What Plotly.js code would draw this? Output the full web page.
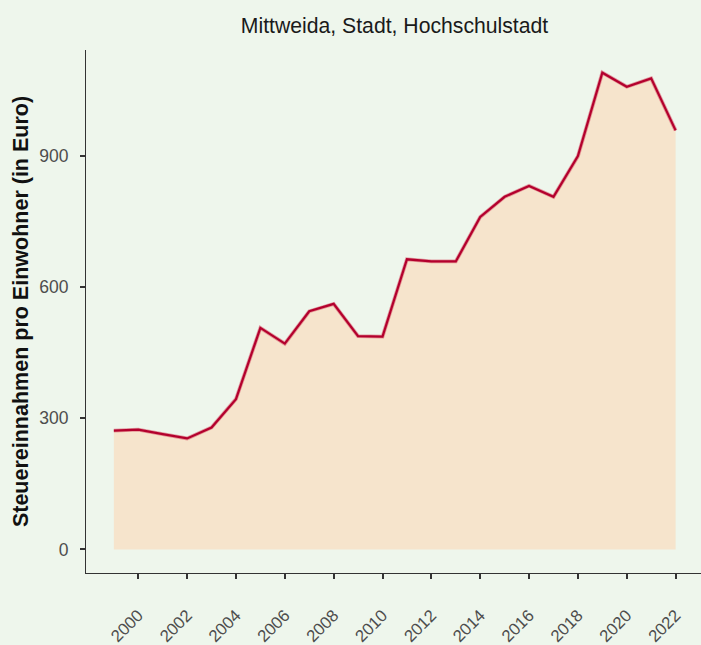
<!DOCTYPE html>
<html>
<head>
<meta charset="utf-8">
<script src="https://cdn.plot.ly/plotly-3.0.1.min.js"></script>
<style>
html,body{margin:0;padding:0;background:#EEF6EC;}
#chart{width:701px;height:645px;}
</style>
</head>
<body>
<div id="chart"></div>
<script>
const years = [1999,2000,2001,2002,2003,2004,2005,2006,2007,2008,2009,2010,2011,2012,2013,2014,2015,2016,2017,2018,2019,2020,2021,2022];
const taxPerCapita = [272,274,264,254,279,344,507,471,545,562,488,487,664,659,659,761,807,832,807,900,1091,1059,1078,959];
const xTickVals = [2000,2002,2004,2006,2008,2010,2012,2014,2016,2018,2020,2022];
const yTickVals = [0,300,600,900];
const chartTitle = "Mittweida, Stadt, Hochschulstadt";
const yTitle = "Steuereinnahmen pro Einwohner (in Euro)";

const traces = [
  {x: years, y: taxPerCapita, type: 'scatter', mode: 'none', fill: 'tozeroy',
   fillcolor: '#F6E4CC', hoverinfo: 'skip'},
  {x: years, y: taxPerCapita, type: 'scatter', mode: 'lines',
   line: {color: 'rgba(215,80,100,0.55)', width: 3.8}, hoverinfo: 'skip'},
  {x: years, y: taxPerCapita, type: 'scatter', mode: 'lines',
   line: {color: '#B3002D', width: 2.2}}
];

const layout = {
  width: 701, height: 645,
  paper_bgcolor: '#EEF6EC', plot_bgcolor: '#EEF6EC',
  showlegend: false,
  margin: {l: 86, r: 0, t: 50, b: 72},
  font: {family: 'Liberation Sans, Arial, sans-serif', color: '#4d4d4d'},
  title: {text: chartTitle, x: 0.5628, xanchor: 'center', y: 0.9597, yanchor: 'middle',
          font: {size: 21.2, color: '#1a1a1a'}},
  xaxis: {range: [1997.86, 2023.04], tickvals: xTickVals, tickangle: -45,
          ticks: 'outside', ticklen: 5, tickwidth: 2, tickcolor: '#333333',
          showline: true, linecolor: '#333333', linewidth: 1,
          showgrid: false, zeroline: false, ticklabelstandoff: 20,
          tickfont: {size: 16.8, color: '#4d4d4d'}},
  yaxis: {range: [-54, 1143], tickvals: yTickVals,
          ticks: 'outside', ticklen: 5, tickwidth: 2, tickcolor: '#333333',
          showline: true, linecolor: '#333333', linewidth: 1,
          showgrid: false, zeroline: false, ticklabelstandoff: 8,
          tickfont: {size: 17.5, color: '#4d4d4d'},
          title: {text: '<b>' + yTitle + '</b>', standoff: 4,
                  font: {size: 21.5, color: '#111111'}}}
};

Plotly.newPlot('chart', traces, layout, {displayModeBar: false, staticPlot: true});
</script>
</body>
</html>
